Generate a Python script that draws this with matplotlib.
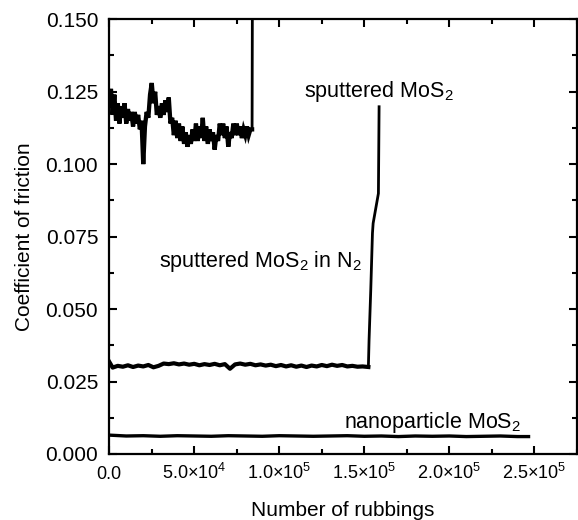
import numpy as np
import matplotlib
matplotlib.use("Agg")
import matplotlib.pyplot as plt
from matplotlib.ticker import MultipleLocator, FixedLocator

plt.rcParams['font.family'] = ['Liberation Sans', 'DejaVu Sans']
plt.rcParams['mathtext.default'] = 'regular'

# sputtered MoS2 in air (fails at ~8.4e4 rubbings)
air_x = [0, 1000, 2000, 3000, 4000, 5000, 6000, 7000, 8000, 9000,
         10000, 11000, 12000, 13000, 14000, 15000, 16000, 17000, 18000, 19000,
         20000, 21000, 22000, 23000, 24000, 25000, 26000, 27000, 28000, 29000,
         30000, 31000, 32000, 33000, 34000, 35000, 36000, 37000, 38000, 39000,
         40000, 41000, 42000, 43000, 44000, 45000, 46000, 47000, 48000, 49000,
         50000, 51000, 52000, 53000, 54000, 55000, 56000, 57000, 58000, 59000,
         60000, 61000, 62000, 63000, 64000, 65000, 66000, 67000, 68000, 69000,
         70000, 71000, 72000, 73000, 74000, 75000, 76000, 77000, 78000, 79000,
         80000, 81000, 82000, 83000, 84000]
air_mu = [0.121, 0.126, 0.117, 0.124, 0.115, 0.121, 0.114, 0.120, 0.116, 0.121,
          0.114, 0.119, 0.115, 0.118, 0.113, 0.118, 0.114, 0.117, 0.112, 0.115,
          0.100, 0.113, 0.118, 0.116, 0.124, 0.128, 0.121, 0.125, 0.117, 0.120,
          0.116, 0.121, 0.117, 0.122, 0.118, 0.123, 0.114, 0.116, 0.110, 0.115,
          0.109, 0.114, 0.108, 0.113, 0.107, 0.111, 0.106, 0.110, 0.107, 0.112,
          0.108, 0.114, 0.108, 0.113, 0.109, 0.116, 0.108, 0.113, 0.107, 0.112,
          0.108, 0.111, 0.105, 0.110, 0.108, 0.114, 0.110, 0.114, 0.109, 0.113,
          0.106, 0.111, 0.109, 0.114, 0.110, 0.114, 0.110, 0.113, 0.109, 0.112,
          0.110, 0.113, 0.110, 0.112, 0.112]
air_fail_x = [84000, 84200]
air_fail_mu = [0.112, 0.160]

# sputtered MoS2 in N2: steady part, then the failure
n2_x = [0, 2000, 5000, 8000, 11000, 14000, 17000, 20000, 23000, 26000,
        29000, 32000, 35000, 38000, 41000, 44000, 47000, 50000, 53000, 56000,
        59000, 62000, 65000, 68000, 71000, 74000, 77000, 80000, 83000, 86000,
        89000, 92000, 95000, 98000, 101000, 104000, 107000, 110000, 113000, 116000,
        119000, 122000, 125000, 128000, 131000, 134000, 137000, 140000, 143000, 146000,
        149000, 152400]
n2_mu = [0.0318, 0.0298, 0.0304, 0.0301, 0.0306, 0.0300, 0.0305, 0.0302, 0.0307, 0.0299,
         0.0304, 0.0312, 0.0310, 0.0313, 0.0309, 0.0312, 0.0308, 0.0311, 0.0306, 0.0310,
         0.0307, 0.0311, 0.0306, 0.0310, 0.0294, 0.0309, 0.0312, 0.0308, 0.0311, 0.0306,
         0.0309, 0.0305, 0.0308, 0.0303, 0.0307, 0.0302, 0.0306, 0.0301, 0.0305, 0.0300,
         0.0305, 0.0302, 0.0307, 0.0303, 0.0308, 0.0304, 0.0307, 0.0302, 0.0304, 0.0301,
         0.0302, 0.0300]
n2_fail_x = [152400, 152800, 153800, 154800, 155200, 158300, 158700]
n2_fail_mu = [0.0300, 0.0393, 0.0566, 0.0762, 0.0796, 0.0899, 0.1198]

# nanoparticle MoS2
nano_x = [0, 10000, 20000, 30000, 40000, 50000, 60000, 70000, 80000, 90000,
          100000, 110000, 120000, 130000, 140000, 150000, 160000, 170000, 180000,
          190000, 200000, 210000, 220000, 230000, 240000, 246600]
nano_mu = [0.0065, 0.0062, 0.0063, 0.0061, 0.0063, 0.0062, 0.0061, 0.0063, 0.0062, 0.0061,
           0.0063, 0.0062, 0.0061, 0.0062, 0.0063, 0.0061, 0.0062, 0.0060, 0.0062, 0.0061,
           0.0062, 0.0060, 0.0061, 0.0062, 0.0060, 0.0060]

x_ticks = [0, 5e4, 1e5, 1.5e5, 2e5, 2.5e5]
x_labels = ['0.0', '5.0×10$^4$', '1.0×10$^5$', '1.5×10$^5$', '2.0×10$^5$', '2.5×10$^5$']
y_ticks = [0.0, 0.025, 0.05, 0.075, 0.1, 0.125, 0.15]
y_labels = ['0.000', '0.025', '0.050', '0.075', '0.100', '0.125', '0.150']

fig = plt.figure(figsize=(5.78, 5.2), dpi=100)
ax = fig.add_axes([0.189, 0.127, 0.809, 0.836])

ax.plot(air_x, air_mu, color='black', lw=3.1, solid_joinstyle='miter')
ax.plot(air_fail_x, air_fail_mu, color='black', lw=2.0)
ax.plot(n2_x, n2_mu, color='black', lw=3.0)
ax.plot(n2_fail_x, n2_fail_mu, color='black', lw=2.0)
ax.plot(nano_x, nano_mu, color='black', lw=2.4)

ax.set_xlim(0, 2.75e5)
ax.set_ylim(0, 0.15)

ax.xaxis.set_major_locator(FixedLocator(x_ticks))
ax.set_xticklabels(x_labels, fontsize=13)
ax.xaxis.set_minor_locator(MultipleLocator(2.5e4))
ax.yaxis.set_major_locator(FixedLocator(y_ticks))
ax.set_yticklabels(y_labels, fontsize=15)
ax.yaxis.set_minor_locator(MultipleLocator(0.0125))

ax.tick_params(which='both', direction='in', top=True, right=True, width=1.5)
ax.tick_params(which='major', length=6)
ax.tick_params(which='minor', length=3.5)
ax.tick_params(axis='x', pad=18)
ax.tick_params(axis='y', pad=8)
for lab in ax.get_xticklabels():
    lab.set_va('baseline')
for s in ax.spines.values():
    s.set_linewidth(1.6)

ax.set_xlabel('Number of rubbings', fontsize=15, labelpad=13)
ax.set_ylabel('Coefficient of friction', fontsize=15, labelpad=8)

ax.text(1.147e5, 0.1249, 'sputtered MoS$_2$', fontsize=15.5, va='center')
ax.text(1.487e5, 0.0644, 'sputtered MoS$_2$ in N$_2$', fontsize=15.5, ha='right', va='baseline')
ax.text(1.38e5, 0.0091, 'nanoparticle MoS$_2$', fontsize=15.5, va='baseline')

fig.savefig('out.png', dpi=100)
